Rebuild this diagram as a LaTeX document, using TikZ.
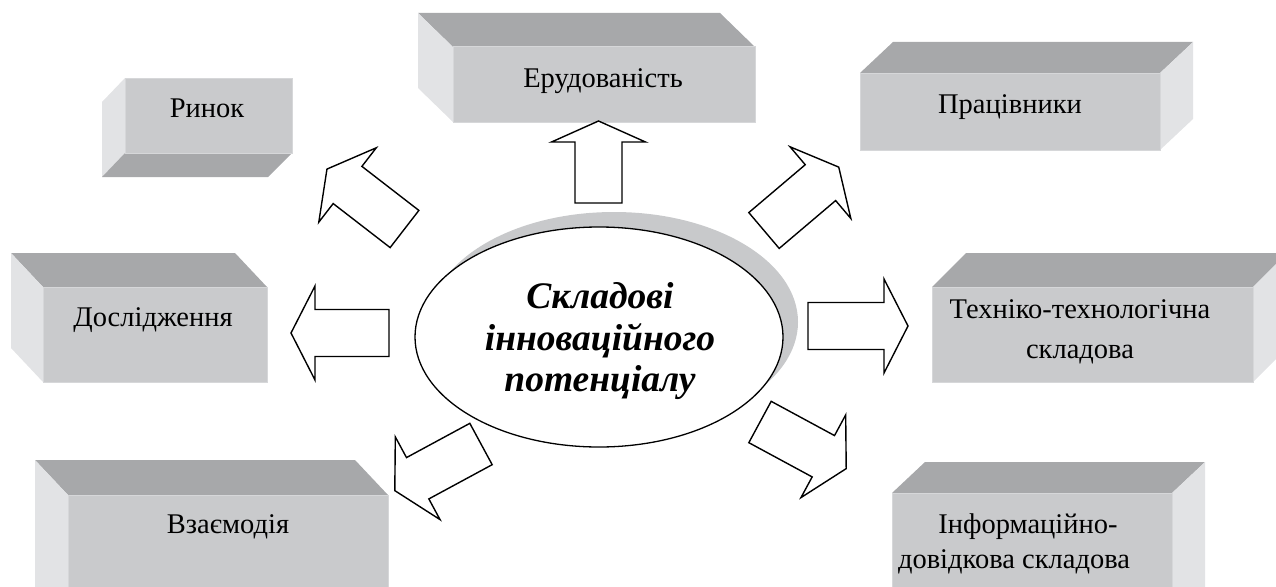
\documentclass[tikz,border=0pt]{standalone}
\usepackage{fontspec}
\setmainfont{Liberation Serif}
\definecolor{frontc}{HTML}{C9CACC}
\definecolor{edgec}{HTML}{D6D7D9}
\definecolor{topc}{HTML}{A7A8AA}
\definecolor{sidec}{HTML}{E2E3E5}
\definecolor{shadowc}{HTML}{C8C9CB}
\tikzset{
  boxtext/.style={font=\fontsize{28.5}{34}\selectfont, anchor=base, inner sep=0pt},
  centertext/.style={font=\fontsize{37.5}{42}\selectfont\bfseries\itshape, anchor=base, inner sep=0pt},
  frontface/.style={fill=frontc, draw=edgec, line width=1pt},
  topface/.style={fill=topc},
  sideface/.style={fill=sidec},
  blockarrow/.style={draw=black, fill=white, line width=1.4pt, line join=miter},
}
% tail-x, tail-y, angle, length, head length
\newcommand\BlkArrow[5]{%
  \begin{scope}[shift={(#1,#2)},rotate=#3]
    \draw[blockarrow] (0,-23.5) -- (#4-#5,-23.5) -- (#4-#5,-47) -- (#4,0)
      -- (#4-#5,47) -- (#4-#5,23.5) -- (0,23.5) -- cycle;
  \end{scope}}
\begin{document}
\begin{tikzpicture}[x=1pt,y=-1pt]
\useasboundingbox (0,0) rectangle (1276,586);
\clip (0,0) rectangle (1276,586);

% Ринок (depth down-left)
\fill[sideface] (125,78) -- (102,102) -- (102,177) -- (125,153) -- cycle;
\fill[topface] (125,153) -- (292,153) -- (268,177) -- (102,177) -- cycle;
\draw[frontface] (125,78) rectangle (292,153);
\node[boxtext] (rynok) at (207,117) {Ринок};

% Ерудованість (depth up-left)
\fill[topface] (453,47) -- (755,47) -- (720,13) -- (418,13) -- cycle;
\fill[sideface] (453,47) -- (418,13) -- (418,88) -- (453,122) -- cycle;
\draw[frontface] (453,47) rectangle (755,122);
\node[boxtext] (erud) at (603,87) {Ерудованість};

% Працівники (depth up-right)
\fill[topface] (860,73) -- (1160,73) -- (1193,42) -- (893,42) -- cycle;
\fill[sideface] (1160,73) -- (1193,42) -- (1193,119) -- (1160,150) -- cycle;
\draw[frontface] (860,73) rectangle (1160,150);
\node[boxtext] (prac) at (1010,113) {Працівники};

% Дослідження (depth up-left)
\fill[topface] (43,287) -- (267,287) -- (235,253) -- (11,253) -- cycle;
\fill[sideface] (43,287) -- (11,253) -- (11,348) -- (43,382) -- cycle;
\draw[frontface] (43,287) rectangle (267,382);
\node[boxtext] (dosl) at (153,326) {Дослідження};

% Техніко-технологічна складова (depth up-right)
\fill[topface] (932,287) -- (1253,287) -- (1287,253) -- (966,253) -- cycle;
\fill[sideface] (1253,287) -- (1287,253) -- (1287,348) -- (1253,382) -- cycle;
\draw[frontface] (932,287) rectangle (1253,382);
\node[boxtext] (tech1) at (1080,318) {Техніко-технологічна};
\node[boxtext] (tech2) at (1080,358) {складова};

% Взаємодія (depth up-left)
\fill[topface] (68,495) -- (388,495) -- (355,460) -- (35,460) -- cycle;
\fill[sideface] (68,495) -- (35,460) -- (35,600) -- (68,600) -- cycle;
\draw[frontface] (68,495) rectangle (388,620);
\node[boxtext] (vzaem) at (228,533) {Взаємодія};

% Інформаційно-довідкова складова (depth up-right)
\fill[topface] (892,493) -- (1172,493) -- (1205,462) -- (925,462) -- cycle;
\fill[sideface] (1172,493) -- (1205,462) -- (1205,600) -- (1172,620) -- cycle;
\draw[frontface] (892,493) rectangle (1172,620);
\node[boxtext] (info1) at (1028,533) {Інформаційно-};
\node[boxtext] (info2) at (1014,568) {довідкова складова};

% central ellipse with shadow
\fill[shadowc] (614,322) ellipse [x radius=184, y radius=110];
\draw[fill=white, line width=1.3pt] (599,337) ellipse [x radius=184, y radius=110];
\node[centertext] (c1) at (600,308) {Складові};
\node[centertext] (c2) at (600,350) {інноваційного};
\node[centertext] (c3) at (600,391) {потенціалу};

% block arrows
\BlkArrow{598.5}{203}{90}{82}{21}
\BlkArrow{404.5}{229}{142.3}{98}{26}
\BlkArrow{764}{230.5}{40.3}{98}{24}
\BlkArrow{389}{333}{180}{98}{24}
\BlkArrow{808}{326}{0}{100}{24}
\BlkArrow{481}{444}{208.4}{98}{26}
\BlkArrow{760}{422}{-28.4}{98}{26}
\end{tikzpicture}
\end{document}
